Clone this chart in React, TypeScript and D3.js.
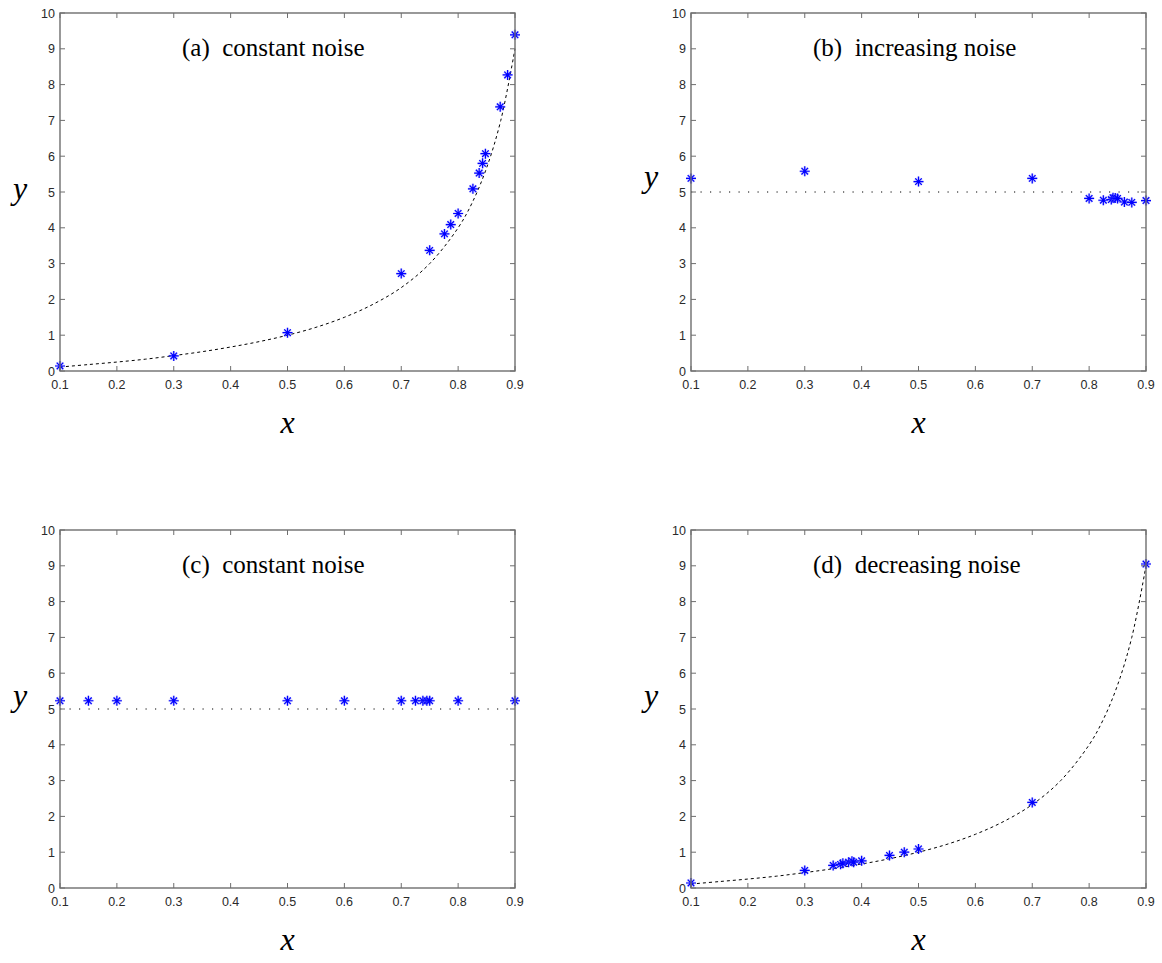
import React from "react";
import * as d3 from "d3";

// ---------- data ----------
const xTicks = [0.1, 0.2, 0.3, 0.4, 0.5, 0.6, 0.7, 0.8, 0.9];
const yTicks = [0, 1, 2, 3, 4, 5, 6, 7, 8, 9, 10];

const titleA = "(a)  constant noise";
const titleB = "(b)  increasing noise";
const titleC = "(c)  constant noise";
const titleD = "(d)  decreasing noise";

const aX = [0.1, 0.3, 0.5, 0.7, 0.75, 0.776, 0.787, 0.8, 0.826, 0.837, 0.843, 0.848, 0.874, 0.887, 0.9];
const aY = [0.14, 0.42, 1.07, 2.72, 3.37, 3.83, 4.09, 4.4, 5.09, 5.53, 5.8, 6.07, 7.38, 8.27, 9.39];

const bX = [0.1, 0.3, 0.5, 0.7, 0.8, 0.825, 0.839, 0.842, 0.846, 0.85, 0.862, 0.875, 0.9];
const bY = [5.38, 5.58, 5.29, 5.38, 4.82, 4.77, 4.79, 4.84, 4.83, 4.82, 4.72, 4.71, 4.76];

const cX = [0.1, 0.15, 0.2, 0.3, 0.5, 0.6, 0.7, 0.725, 0.738, 0.745, 0.75, 0.8, 0.9];
const cY = [5.23, 5.23, 5.23, 5.23, 5.23, 5.23, 5.23, 5.23, 5.23, 5.23, 5.23, 5.23, 5.23];

const dX = [0.1, 0.3, 0.35, 0.363, 0.367, 0.377, 0.383, 0.386, 0.4, 0.449, 0.475, 0.5, 0.7, 0.9];
const dY = [0.14, 0.49, 0.63, 0.66, 0.69, 0.72, 0.75, 0.72, 0.76, 0.91, 1.0, 1.09, 2.39, 9.05];

// reference curve (dashed)
const curveX = [0.1, 0.15, 0.2, 0.25, 0.3, 0.35, 0.4, 0.45, 0.5, 0.55, 0.6, 0.65, 0.7, 0.75, 0.8, 0.825, 0.85, 0.875, 0.9];
const curveY = [0.11, 0.18, 0.25, 0.33, 0.43, 0.54, 0.67, 0.82, 1.0, 1.22, 1.5, 1.86, 2.33, 3.0, 4.0, 4.71, 5.67, 7.0, 9.0];

// flat reference line (dotted)
const flatX = [0.1, 0.9];
const flatY = [5, 5];

// ---------- layout ----------
const W = 1162;
const H = 963;
const PW = 455;
const PH = 358;

type Panel = {
  left: number;
  top: number;
  title: string;
  xs: number[];
  ys: number[];
  refX: number[];
  refY: number[];
  refKind: "dashed" | "dotted";
  yLabelY: number;
};

const panels: Panel[] = [
  { left: 60, top: 13, title: titleA, xs: aX, ys: aY, refX: curveX, refY: curveY, refKind: "dashed", yLabelY: 196 },
  { left: 691, top: 13, title: titleB, xs: bX, ys: bY, refX: flatX, refY: flatY, refKind: "dotted", yLabelY: 184 },
  { left: 60, top: 530, title: titleC, xs: cX, ys: cY, refX: flatX, refY: flatY, refKind: "dotted", yLabelY: 703 },
  { left: 691, top: 530, title: titleD, xs: dX, ys: dY, refX: curveX, refY: curveY, refKind: "dashed", yLabelY: 703 },
];

const starPath = "M-5,0H5M0,-5V5M-3.3,-3.3L3.3,3.3M-3.3,3.3L3.3,-3.3";
const axisColor = "#6e6e6e";
const tickFont = "'Liberation Sans', Arial, sans-serif";
const serif = "'Liberation Serif', 'Times New Roman', serif";

function PanelView({ p }: { p: Panel }) {
  const x = d3.scaleLinear().domain([0.1, 0.9]).range([p.left, p.left + PW]);
  const y = d3.scaleLinear().domain([0, 10]).range([p.top + PH, p.top]);
  const refPts = p.refX.map((v, i) => [v, p.refY[i]] as [number, number]);
  const line = d3
    .line<[number, number]>()
    .x((d) => x(d[0]))
    .y((d) => y(d[1]))
    .curve(p.refKind === "dashed" ? d3.curveCatmullRom.alpha(0.5) : d3.curveLinear);
  const bottom = p.top + PH;
  const right = p.left + PW;
  return (
    <g>
      {/* reference line */}
      <path
        d={line(refPts) || ""}
        fill="none"
        stroke="#000"
        strokeWidth={1}
        strokeDasharray={p.refKind === "dashed" ? "3,3" : "1.2,8.3"}
      />
      {/* markers */}
      {p.xs.map((xv, i) => (
        <g key={i} transform={`translate(${x(xv)},${y(p.ys[i])})`}>
          <path d={starPath} stroke="#7a7aff" strokeWidth={2.6} strokeOpacity={0.35} fill="none" />
          <path d={starPath} stroke="#0000ff" strokeWidth={1.2} fill="none" />
        </g>
      ))}
      {/* box */}
      <rect x={p.left} y={p.top} width={PW} height={PH} fill="none" stroke={axisColor} strokeWidth={1.4} />
      {/* x ticks */}
      {xTicks.map((t) => (
        <g key={"x" + t}>
          <line x1={x(t)} x2={x(t)} y1={bottom} y2={bottom - 5} stroke={axisColor} strokeWidth={1} />
          <line x1={x(t)} x2={x(t)} y1={p.top} y2={p.top + 5} stroke={axisColor} strokeWidth={1} />
          <text
            x={x(t)}
            y={bottom + 18}
            textAnchor="middle"
            fontFamily={tickFont}
            fontSize={12.5}
            fill="#2a2a2a"
          >
            {d3.format(".1f")(t)}
          </text>
        </g>
      ))}
      {/* y ticks */}
      {yTicks.map((t) => (
        <g key={"y" + t}>
          <line x1={p.left} x2={p.left + 5} y1={y(t)} y2={y(t)} stroke={axisColor} strokeWidth={1} />
          <line x1={right} x2={right - 5} y1={y(t)} y2={y(t)} stroke={axisColor} strokeWidth={1} />
          <text
            x={p.left - 5}
            y={y(t)}
            dy="0.36em"
            textAnchor="end"
            fontFamily={tickFont}
            fontSize={12.5}
            fill="#2a2a2a"
          >
            {String(t)}
          </text>
        </g>
      ))}
      {/* title */}
      <text
        x={p.left + 122}
        y={p.top + 43}
        fontFamily={serif}
        fontSize={25}
        fill="#000"
        style={{ whiteSpace: "pre" }}
      >
        {p.title}
      </text>
      {/* axis labels */}
      <text
        x={(p.left + right) / 2}
        y={bottom + 62}
        textAnchor="middle"
        fontFamily={serif}
        fontStyle="italic"
        fontSize={32}
        fill="#000"
      >
        x
      </text>
      <text
        x={p.left - 40}
        y={p.yLabelY}
        dy="0.1em"
        textAnchor="middle"
        fontFamily={serif}
        fontStyle="italic"
        fontSize={32}
        fill="#000"
      >
        y
      </text>
    </g>
  );
}

export default function App() {
  return (
    <svg
      width={W}
      height={H}
      viewBox={`0 0 ${W} ${H}`}
      style={{ position: "absolute", left: 0, top: 0, background: "#fff" }}
    >
      <rect x={0} y={0} width={W} height={H} fill="#fff" />
      {panels.map((p, i) => (
        <PanelView key={i} p={p} />
      ))}
    </svg>
  );
}
